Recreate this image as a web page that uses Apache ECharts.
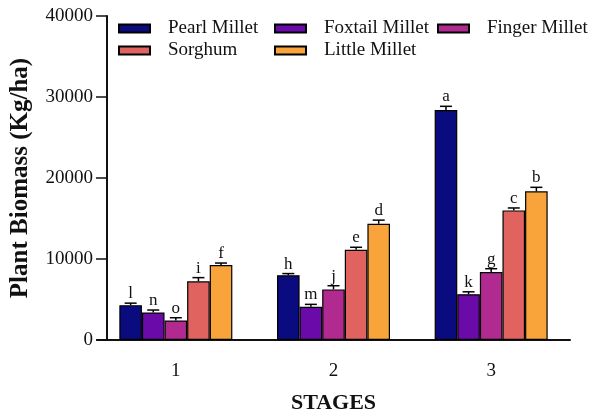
<!DOCTYPE html>
<html>
<head>
<meta charset="utf-8">
<script src="https://cdn.jsdelivr.net/npm/echarts@6/dist/echarts.min.js"></script>
<style>
  html, body { margin: 0; padding: 0; background: #fff; }
  #chart { width: 592px; height: 419px; }
</style>
</head>
<body>
<div id="chart"></div>
<script>
(function () {
  "use strict";
  var stages = ['1', '2', '3'];
  var names = ['Pearl Millet', 'Foxtail Millet', 'Finger Millet', 'Sorghum', 'Little Millet'];
  var colors = ['#0b0b80', '#6a0aa8', '#b02a8f', '#e0635f', '#f8a43a'];

  var pearl = [4300, 8000, 28400];
  var foxtail = [3400, 4100, 5650];
  var finger = [2400, 6250, 8400];
  var sorghum = [7250, 11150, 16000];
  var little = [9250, 14350, 18350];

  var pearlErr = [250, 200, 450];
  var foxtailErr = [300, 300, 300];
  var fingerErr = [350, 450, 400];
  var sorghumErr = [450, 300, 300];
  var littleErr = [250, 450, 500];

  var pearlTag = ['l', 'h', 'a'];
  var foxtailTag = ['n', 'm', 'k'];
  var fingerTag = ['o', 'j', 'g'];
  var sorghumTag = ['i', 'e', 'c'];
  var littleTag = ['f', 'd', 'b'];

  var yTicks = [0, 10000, 20000, 30000, 40000];

  var values = [pearl, foxtail, finger, sorghum, little];
  var errs = [pearlErr, foxtailErr, fingerErr, sorghumErr, littleErr];
  var tags = [pearlTag, foxtailTag, fingerTag, sorghumTag, littleTag];

  var barW = 22.6;
  var font = '"Liberation Serif", "Times New Roman", serif';

  var series = [];
  names.forEach(function (n, i) {
    series.push({
      name: n,
      type: 'bar',
      data: values[i],
      barWidth: barW,
      barGap: '0%',
      itemStyle: { color: colors[i], borderColor: '#000', borderWidth: 1.2 }
    });
  });
  names.forEach(function (n, i) {
    series.push({
      name: 'err' + i,
      type: 'custom',
      z: 5,
      data: stages.map(function (s, k) { return [k, values[i][k], values[i][k] + errs[i][k]]; }),
      renderItem: function (params, api) {
        var base = api.coord([api.value(0), api.value(1)]);
        var top = api.coord([api.value(0), api.value(2)]);
        var x = base[0] + (i - 2) * barW;
        var cap = 6;
        return {
          type: 'group',
          children: [
            { type: 'line', shape: { x1: x, y1: base[1], x2: x, y2: top[1] }, style: { stroke: '#000', lineWidth: 1.5 } },
            { type: 'line', shape: { x1: x - cap, y1: top[1], x2: x + cap, y2: top[1] }, style: { stroke: '#000', lineWidth: 1.5 } },
            { type: 'text', x: x, y: top[1] - 1, style: { text: tags[i][params.dataIndex], fill: '#111', font: '17px ' + font, align: 'center', verticalAlign: 'bottom' } }
          ]
        };
      }
    });
  });

  var legendPos = [[118, 19], [274, 19], [437, 19], [118, 41], [274, 41]];
  var legends = names.map(function (n, i) {
    return {
      data: [{ name: n, icon: 'rect' }],
      left: legendPos[i][0],
      top: legendPos[i][1],
      padding: 0,
      itemWidth: 31,
      itemHeight: 8,
      itemGap: 0,
      selectedMode: false,
      textStyle: { fontFamily: font, fontSize: 19, color: '#111', padding: [0, 0, 0, 13] }
    };
  });

  var option = {
    animation: false,
    backgroundColor: '#fff',
    color: colors,
    legend: legends,
    grid: { left: 96, right: 22, top: 16, bottom: 78 },
    xAxis: {
      type: 'category',
      data: stages,
      name: 'STAGES',
      nameLocation: 'middle',
      nameGap: 52,
      nameTextStyle: { fontFamily: font, fontSize: 22, fontWeight: 'bold', color: '#111' },
      axisLine: { lineStyle: { color: '#111', width: 2 } },
      axisTick: { alignWithLabel: true, length: 10, lineStyle: { color: '#111', width: 1.5 } },
      axisLabel: { fontFamily: font, fontSize: 19, color: '#111', margin: 22 }
    },
    yAxis: {
      type: 'value',
      min: yTicks[0],
      max: yTicks[yTicks.length - 1],
      interval: 10000,
      offset: -10,
      name: 'Plant Biomass (Kg/ha)',
      nameLocation: 'middle',
      nameGap: 74,
      nameTextStyle: { fontFamily: font, fontSize: 25, fontWeight: 'bold', color: '#111' },
      axisLine: { show: true, lineStyle: { color: '#111', width: 2 } },
      axisTick: { show: true, length: 11, lineStyle: { color: '#111', width: 1.5 } },
      axisLabel: {
        fontFamily: font, fontSize: 19, color: '#111', margin: 14,
        formatter: function (v) { return String(v); }
      },
      splitLine: { show: false }
    },
    series: series
  };

  var chart = echarts.init(document.getElementById('chart'));
  chart.setOption(option);
})();
</script>
</body>
</html>
